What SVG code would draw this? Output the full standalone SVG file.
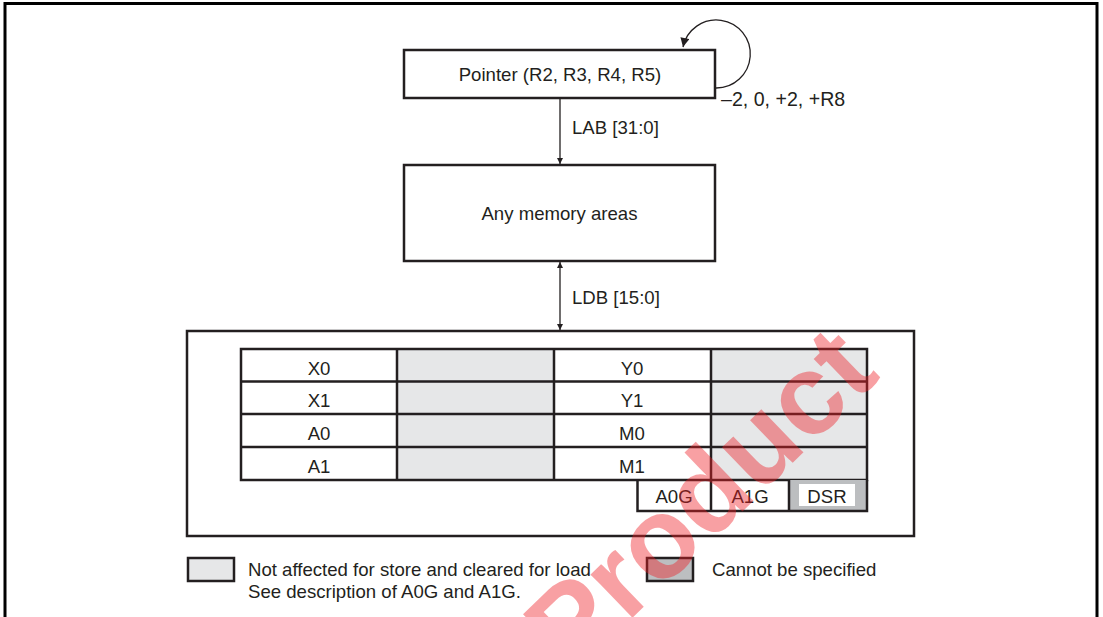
<svg xmlns="http://www.w3.org/2000/svg" width="1103" height="617" viewBox="0 0 1103 617">
<defs>
<style>
text{font-family:"Liberation Sans",Arial,sans-serif;font-size:18.6px;fill:#231f20}
.c{text-anchor:middle}
.box{fill:#fff;stroke:#231f20;stroke-width:2.5}
.ln{stroke:#231f20;stroke-width:2.5;fill:none}
.thin{stroke:#231f20;stroke-width:1.3;fill:none}
.lg{fill:#e6e7e8}
.dg{fill:#bcbec0}
</style>
<marker id="ah" viewBox="0 0 10 10" refX="10" refY="5" markerWidth="6" markerHeight="9" markerUnits="userSpaceOnUse" orient="auto-start-reverse">
<path d="M0,0 L10,5 L0,10 Z" fill="#231f20"/>
</marker>
<marker id="ah2" viewBox="0 0 10 10" refX="10" refY="5" markerWidth="12" markerHeight="9" markerUnits="userSpaceOnUse" orient="auto">
<path d="M0,0 L10,5 L0,10 Z" fill="#231f20"/>
</marker>
</defs>
<rect width="1103" height="617" fill="#fff"/>
<path d="M5,617 V3.5 H1097 V617" fill="none" stroke="#000" stroke-width="3"/>

<g id="pointer">
<rect class="box" x="404" y="50" width="311" height="48"/>
<text class="c" x="560" y="80.5">Pointer (R2, R3, R4, R5)</text>
</g>

<g id="memory">
<rect class="box" x="404" y="165" width="311" height="96"/>
<text class="c" x="559.5" y="220">Any memory areas</text>
</g>

<g id="connectors">
<path class="thin" d="M716,88 A34,34 0 1 0 683,47" marker-end="url(#ah2)"/>
<text x="721" y="105.5" style="font-size:19.6px">–2, 0, +2, +R8</text>
<path class="thin" d="M560,98 V164" marker-end="url(#ah)"/>
<text x="572" y="134">LAB [31:0]</text>
<path class="thin" d="M560,262 V330" marker-start="url(#ah)" marker-end="url(#ah)"/>
<text x="572" y="303.5">LDB [15:0]</text>
</g>

<g id="registers">
<rect class="box" x="187" y="331" width="727" height="205"/>
<rect class="lg" x="397" y="349" width="157" height="131"/>
<rect class="lg" x="711" y="349" width="156" height="131"/>
<rect class="ln" x="241" y="349" width="626" height="131"/>
<path class="ln" d="M241,381.5 H867 M241,414 H867 M241,447 H867 M397,349 V480 M554,349 V480 M711,349 V480"/>
<text class="c" x="319" y="375">X0</text>
<text class="c" x="319" y="407">X1</text>
<text class="c" x="319" y="440">A0</text>
<text class="c" x="319" y="473">A1</text>
<text class="c" x="632" y="375">Y0</text>
<text class="c" x="632" y="407">Y1</text>
<text class="c" x="632" y="440">M0</text>
<text class="c" x="632" y="473">M1</text>
<rect class="dg" x="789" y="480" width="78" height="31"/>
<rect fill="#fff" x="799" y="484" width="56" height="22"/>
<path class="ln" d="M637.5,480 V511 H867 V480 M711,480 V511 M789,480 V511"/>
<text class="c" x="674" y="503">A0G</text>
<text class="c" x="750" y="503">A1G</text>
<text class="c" x="827" y="503">DSR</text>
</g>

<g id="legend">
<rect x="188" y="558" width="46" height="23" fill="#e6e7e8" stroke="#231f20" stroke-width="2.5"/>
<text x="248" y="576">Not affected for store and cleared for load</text>
<text x="248" y="598">See description of A0G and A1G.</text>
<rect x="647" y="558" width="46" height="23" fill="#bcbec0" stroke="#231f20" stroke-width="2.5"/>
<text x="712" y="576">Cannot be specified</text>
</g>

<text x="0" y="0" transform="translate(572,676) rotate(-44)" style="font-size:114px;font-weight:bold;fill:#ee1c24;fill-opacity:0.42">Product</text>
</svg>
